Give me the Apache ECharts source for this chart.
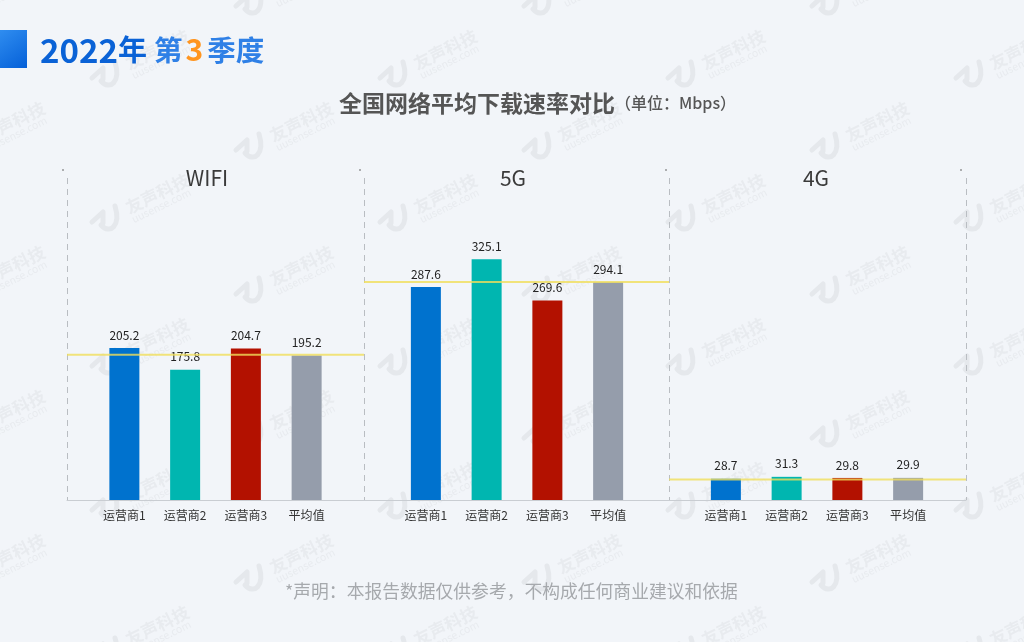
<!DOCTYPE html>
<html>
<head>
<meta charset="utf-8">
<style>html,body{margin:0;padding:0;background:#f2f5f9}#main{width:1024px;height:642px}</style>
<script src="https://cdn.jsdelivr.net/npm/echarts@6/dist/echarts.min.js"></script>
</head>
<body>
<div id="main"></div>
<script>
var FONT = '"Noto Sans CJK SC", "Noto Sans", sans-serif';

var categories = ['运营商1', '运营商2', '运营商3', '平均值'];
var panelNames = ['WIFI', '5G', '4G'];
var wifiValues = [205.2, 175.8, 204.7, 195.2];
var fiveGValues = [287.6, 325.1, 269.6, 294.1];
var fourGValues = [28.7, 31.3, 29.8, 29.9];
// height of the yellow reference line in each panel
var avgLines = [196.3, 294.6, 27.6];
var barColors = ['#0072ce', '#00b6b0', '#b31100', '#959dab'];

var panelValues = [wifiValues, fiveGValues, fourGValues];
var panelEdges = [[67, 364], [364, 669], [669, 966]];
var barCenters = [215.5, 517, 817];
var titleX = [207, 513, 816];
var barSpan = 243;
var gridTop = 178, gridBottom = 500, yMax = 435;

var grids = [], xAxes = [], yAxes = [], series = [], titles = [], graphics = [];

panelEdges.forEach(function (edge, i) {
    // outer grid: dashed frame, baseline and yellow line
    grids.push({left: edge[0], width: edge[1] - edge[0], top: gridTop, height: gridBottom - gridTop});
    xAxes.push({
        type: 'value', gridIndex: i * 2, min: 0, max: 1, interval: 1,
        axisLine: {show: true, onZero: false, lineStyle: {color: '#c9cdd2', width: 1}},
        axisTick: {show: false},
        axisLabel: {show: false},
        splitLine: {show: true, lineStyle: {color: '#b9bdc2', type: [6, 5], width: 1}}
    });
    yAxes.push({type: 'value', gridIndex: i * 2, min: 0, max: yMax, show: false});

    // inner grid: the bars
    grids.push({left: barCenters[i] - barSpan / 2, width: barSpan, top: gridTop, height: gridBottom - gridTop});
    xAxes.push({
        type: 'category', gridIndex: i * 2 + 1, data: categories,
        axisLine: {show: false},
        axisTick: {show: false},
        axisLabel: {color: '#333', fontSize: 12, fontFamily: FONT, margin: 9, interval: 0}
    });
    yAxes.push({type: 'value', gridIndex: i * 2 + 1, min: 0, max: yMax, show: false});

    series.push({
        type: 'bar', xAxisIndex: i * 2 + 1, yAxisIndex: i * 2 + 1,
        barWidth: 30, z: 2,
        data: panelValues[i].map(function (v, j) {
            return {value: v, itemStyle: {color: barColors[j]}};
        }),
        label: {show: true, position: 'top', distance: 7, color: '#222', fontSize: 12, fontFamily: FONT},
        silent: true
    });
    series.push({
        type: 'line', xAxisIndex: i * 2, yAxisIndex: i * 2,
        data: [[0, avgLines[i]], [1, avgLines[i]]],
        symbol: 'none', z: 5, silent: true,
        lineStyle: {color: 'rgba(240,222,90,0.8)', width: 2}
    });

    titles.push({
        text: panelNames[i], left: titleX[i], top: 178, padding: 0, textAlign: 'center', textVerticalAlign: 'middle',
        textStyle: {color: '#3a3a3a', fontSize: 21, fontWeight: 'normal', fontFamily: FONT}
    });
});

titles.push({
    text: '{a|2022}{b|年} {c|第}{d|3}{c|季度}',
    left: 40, top: 50, padding: 0, textVerticalAlign: 'middle',
    textStyle: {
        fontFamily: FONT,
        rich: {
            a: {fontSize: 33, fontWeight: 'bold', color: '#0a62d6', fontFamily: FONT},
            b: {fontSize: 29, color: '#0a62d6', fontFamily: FONT, padding: [0, 3, 0, 0]},
            c: {fontSize: 28.5, color: '#2f80e6', fontFamily: FONT},
            d: {fontSize: 30, fontWeight: 'bold', color: '#ff951f', fontFamily: FONT, padding: [0, 4, 0, 3]}
        }
    }
});
titles.push({
    text: '{a|全国网络平均下载速率对比}{b|（单位：Mbps）}',
    left: 339, top: 103, padding: 0, textVerticalAlign: 'middle',
    textStyle: {
        fontFamily: FONT,
        rich: {
            a: {fontSize: 23, fontWeight: 'bold', color: '#555', fontFamily: FONT},
            b: {fontSize: 16, fontWeight: 500, color: '#555', fontFamily: FONT}
        }
    }
});
titles.push({
    text: '*声明：本报告数据仅供参考，不构成任何商业建议和依据',
    left: 285, top: 591, padding: 0, textVerticalAlign: 'middle',
    textStyle: {color: '#a6a9ad', fontSize: 17.8, fontWeight: 'normal', fontFamily: FONT}
});

// watermark lattice
for (var k = -1; k <= 7; k++) {
    for (var m = -3; m <= 6; m++) {
        if ((k + m + 2000) % 2 !== 0) continue;
        graphics.push({
            type: 'group', x: 108 + 144 * k, y: 220 + 72 * m, z: 0, silent: true,
            children: [
                {
                    type: 'polyline',
                    shape: {points: [[-16, 2], [-5, -8], [-5, 3]]},
                    style: {fill: null, stroke: '#e5e8ec', lineWidth: 5, lineCap: 'round', lineJoin: 'round'}
                },
                {
                    type: 'bezierCurve',
                    shape: {x1: 7, y1: -14, cpx1: 13, cpy1: 6, cpx2: 2, cpy2: 15, x2: -7, y2: 5},
                    style: {fill: null, stroke: '#e5e8ec', lineWidth: 5, lineCap: 'round'}
                },
                {
                    type: 'text', x: 15, y: -19, rotation: 0.455,
                    style: {text: '友声科技', fontSize: 17, fontFamily: FONT, fontWeight: 'bold', fill: '#e8ebef'}
                },
                {
                    type: 'text', x: 22, y: -5, rotation: 0.455,
                    style: {text: 'uusense.com', fontSize: 10.5, fontFamily: FONT, fill: '#e8ebef'}
                }
            ]
        });
    }
}

// header block and the small marks at the top of the panels
graphics.push({
    type: 'rect', shape: {x: 0, y: 30, width: 27, height: 38}, z: 1, silent: true,
    style: {fill: new echarts.graphic.LinearGradient(0, 0, 1, 1, [
        {offset: 0, color: '#2f8df0'}, {offset: 1, color: '#0560d8'}
    ])}
});
[63, 360, 666, 961].forEach(function (x) {
    graphics.push({
        type: 'line', shape: {x1: x, y1: 169, x2: x, y2: 171}, z: 1, silent: true,
        style: {stroke: '#666', lineWidth: 1}
    });
});

var chart = echarts.init(document.getElementById('main'));
chart.setOption({
    backgroundColor: '#f2f5f9',
    animation: false,
    title: titles,
    grid: grids,
    xAxis: xAxes,
    yAxis: yAxes,
    series: series,
    graphic: graphics
});
</script>
</body>
</html>
